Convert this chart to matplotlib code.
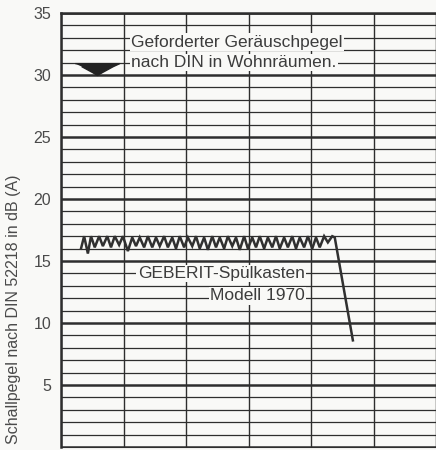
import matplotlib
matplotlib.use("Agg")
import matplotlib.pyplot as plt

plt.rcParams['font.family'] = ['Liberation Sans', 'DejaVu Sans']

# Pegelverlauf des Spülkastens (x: Zeitachse in Rastereinheiten, y: dB(A))
zeit = [0.32, 0.37, 0.43, 0.48, 0.54, 0.61, 0.67, 0.74, 0.80, 0.86, 0.93, 0.99,
        1.07, 1.14, 1.20, 1.26, 1.33, 1.39, 1.46, 1.52, 1.58, 1.65, 1.71, 1.78,
        1.84, 1.90, 1.97, 2.03, 2.10, 2.16, 2.22, 2.29, 2.35, 2.42, 2.48, 2.54,
        2.61, 2.67, 2.74, 2.80, 2.86, 2.93, 2.99, 3.06, 3.12, 3.18, 3.25, 3.31,
        3.38, 3.44, 3.50, 3.57, 3.63, 3.70, 3.76, 3.82, 3.89, 3.95, 4.02, 4.08,
        4.14, 4.21, 4.27, 4.34, 4.38, 4.67]
pegel = [16.0, 17.0, 15.6, 17.0, 16.1, 17.0, 16.2, 17.0, 16.1, 17.0, 16.3, 17.0,
         15.8, 16.9, 16.2, 16.9, 16.1, 17.0, 16.1, 16.9, 16.2, 17.0, 16.1, 16.9,
         16.0, 17.0, 16.1, 16.9, 16.2, 17.0, 16.0, 16.9, 15.9, 17.0, 16.1, 16.9,
         16.0, 17.0, 16.2, 16.9, 15.9, 17.0, 16.0, 16.9, 16.1, 17.0, 16.0, 16.9,
         16.1, 17.0, 16.0, 16.9, 16.1, 17.0, 16.0, 16.9, 16.1, 17.0, 16.0, 16.9,
         16.1, 17.0, 16.5, 17.0, 16.9, 8.6]

gefordert = 30          # geforderter Geräuschpegel nach DIN
marke_x = 0.57
y_ticks = [5, 10, 15, 20, 25, 30, 35]

linie = '#2e2e2e'

fig = plt.figure(figsize=(4.36, 4.5), dpi=100)
fig.patch.set_facecolor('#f9f9f7')
ax = fig.add_axes([61 / 436, 3 / 450, 1 - 61 / 436, 434 / 450])
ax.set_facecolor('#f9f9f7')
ax.set_xlim(0, 6)
ax.set_ylim(0, 35)

# Raster: jede dB-Stufe dünn, alle 5 dB kräftig
for yy in range(0, 36):
    lw = 1.8 if yy % 5 == 0 else 0.9
    ax.axhline(yy, color=linie, lw=lw, zorder=1)
for xx in range(0, 7):
    ax.axvline(xx, color=linie, lw=1.0, zorder=1)

for s in ax.spines.values():
    s.set_color(linie)
ax.spines['left'].set_linewidth(1.8)
ax.spines['top'].set_linewidth(1.8)

ax.set_xticks([])
ax.set_yticks(y_ticks)
ax.tick_params(axis='y', length=0, pad=7, labelsize=11.5, labelcolor='#4a4a4a')

# Messkurve
ax.plot(zeit, pegel, color='#303030', lw=1.8, zorder=3, solid_joinstyle='miter')

# Marke für den geforderten Pegel
keil = [(-22.5, 12), (22.5, 12), (16, 9), (5, 3), (0, 0), (-5, 3), (-16, 9)]
ax.plot([marke_x], [gefordert], marker=keil, markersize=32, color='#222222',
        linestyle='none', zorder=3)

box = dict(facecolor='#f9f9f7', edgecolor='none', pad=1.0)
ax.text(1.12, 32.65, 'Geforderter Geräuschpegel', fontsize=12.5, color='#3c3c3c',
        ha='left', va='center', bbox=box, zorder=4)
ax.text(1.12, 31.0, 'nach DIN in Wohnräumen.', fontsize=12.5, color='#3c3c3c',
        ha='left', va='center', bbox=box, zorder=4)
ax.text(3.9, 14.0, 'GEBERIT-Spülkasten', fontsize=12.5, color='#3c3c3c',
        ha='right', va='center', bbox=box, zorder=4)
ax.text(3.9, 12.2, 'Modell 1970', fontsize=12.5, color='#3c3c3c',
        ha='right', va='center', bbox=box, zorder=4)

fig.text(14 / 436, 1 - 309 / 450, 'Schallpegel nach DIN 52218 in dB (A)',
         rotation=90, ha='center', va='center', fontsize=11.5, color='#4a4a4a')

fig.savefig('out.png', dpi=100, facecolor=fig.get_facecolor())
